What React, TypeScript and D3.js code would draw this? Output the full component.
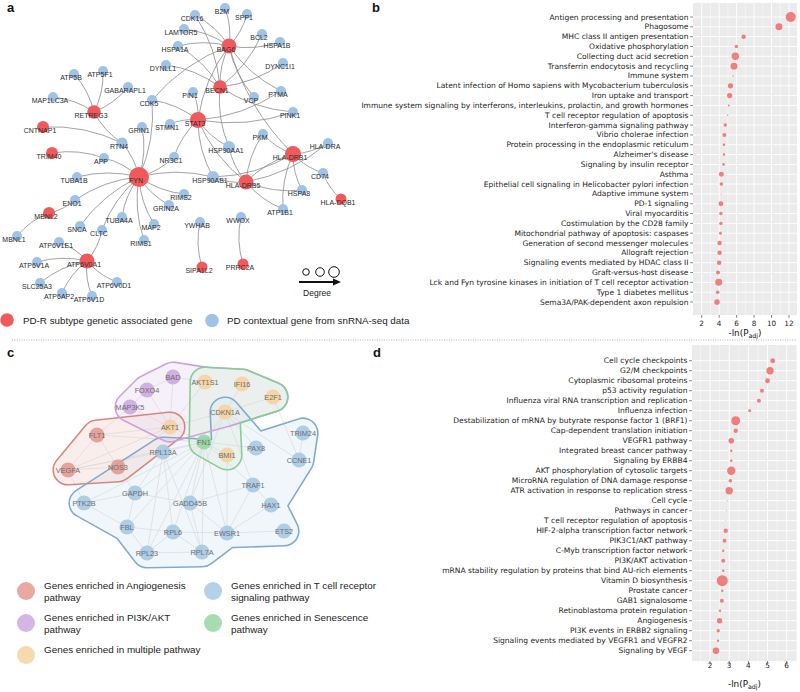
import React from "react";
import * as d3 from "d3";

// ---------------- Panel a : gene network ----------------
const aGenes = ["CDK16","B2M","SPP1","LAMTOR5","BCL2","HSPA1B","BAG6","HSPA1A","DYNLL1","DYNC1I1","ATP5B","ATP5F1","GABARAPL1","BECN1","MAP1LC3A","CDK5","PIN1","VCP","PTMA","RETREG3","PINK1","STAT3","STMN1","CNTNAP1","GRIN1","PKM","RTN4","HLA-DRA","HSP90AA1","HLA-DRB1","TRIM40","APP","NR3C1","CD74","HSP90AB1","FYN","TUBA1B","HLA-DRB5","HSPA8","RIMS2","HLA-DQB1","ENO1","GRIN2A","ATP1B1","MBNL2","TUBA4A","WWOX","YWHAB","MAP2","SNCA","CLTC","MBNL1","RIMS1","ATP6V1E1","ATP6V0A1","ATP6V1A","PRRC2A","SIPA1L2","SLC25A3","ATP6V0D1","ATP6AP2","ATP6V1D"];
const aX = [195,225,247,184,262,280,229,178,166,283,74,103,128,220,53,152,193,254,281,94,293,198,170,43,142,263,122,328,229,293,52,104,174,323,213,139,77,246,302,184,341,75,169,283,49,122,241,200,154,80,102,17,144,59,87,37,243,202,40,117,62,92];
const aY = [15,8,14,29,34,42,46,46,65,63,74,71,87,87,97,100,92,97,91,112,112,120,124,127,127,134,143,143,147,154,153,158,157,173,177,177,177,182,190,194,199,200,205,209,213,217,217,222,224,226,230,236,240,242,261,262,264,267,283,282,293,296];
const aKind = ["C","C","C","C","C","C","R","C","C","C","C","C","C","R","C","C","C","C","C","R","C","R","C","R","C","C","C","C","C","R","R","C","C","C","C","R","C","R","C","C","R","C","C","C","R","C","C","C","C","C","C","C","C","C","R","C","R","R","C","C","C","C"];
const aSize = [5,5,5,5,5,5,7.5,5,5,5,5,5,5,6.8,5,5,5,5,5,6.8,5,8,5,6,5,5,5.5,5,6,8,6,5,5,5,6,10,5,7.5,5,5,5.5,5,5,5,6,5,5,5,5,5,5,5,5,5,7.5,5,5.5,5.5,5,5,5,5];
const aEdges = [
  ["BAG6","CDK16"],["BAG6","B2M"],["BAG6","SPP1"],["BAG6","LAMTOR5"],["BAG6","HSPA1B"],["BAG6","HSPA1A"],["BAG6","BECN1"],["BAG6","VCP"],["BAG6","HLA-DRB1"],["BAG6","CDK5"],["BAG6","PTMA"],["BAG6","STAT3"],
  ["BECN1","BCL2"],["BECN1","DYNC1I1"],["BECN1","DYNLL1"],["BECN1","HSPA1A"],["BECN1","PINK1"],["BECN1","HSP90AA1"],["BECN1","CDK16"],
  ["STAT3","PIN1"],["STAT3","STMN1"],["STAT3","CDK5"],["STAT3","NR3C1"],["STAT3","PTMA"],["STAT3","PINK1"],["STAT3","HSP90AA1"],["STAT3","HSP90AB1"],["STAT3","HLA-DRB5"],
  ["PKM","HLA-DRB1"],["PKM","HLA-DRB5"],["HSP90AA1","HLA-DRB5"],["HSP90AB1","FYN"],["HSP90AB1","HLA-DRB1"],["HSP90AB1","HLA-DRB5"],
  ["HLA-DRB1","HLA-DRA"],["HLA-DRB1","CD74"],["HLA-DRB1","HLA-DRB5"],["HLA-DRB1","HSPA8"],["HLA-DRB1","ATP1B1"],
  ["HLA-DRB5","HSPA8"],["HLA-DRB5","ATP1B1"],["HLA-DRB5","HLA-DRA"],["CD74","HLA-DQB1"],
  ["FYN","RTN4"],["FYN","APP"],["FYN","TUBA1B"],["FYN","ENO1"],["FYN","SNCA"],["FYN","CLTC"],["FYN","TUBA4A"],["FYN","MAP2"],["FYN","RIMS1"],["FYN","GRIN2A"],["FYN","RIMS2"],["FYN","GRIN1"],["FYN","CDK5"],["FYN","NR3C1"],
  ["RETREG3","ATP5B"],["RETREG3","ATP5F1"],["RETREG3","GABARAPL1"],["RETREG3","MAP1LC3A"],["RETREG3","RTN4"],
  ["RTN4","CNTNAP1"],["APP","TRIM40"],["MBNL2","MBNL1"],["MBNL2","ENO1"],
  ["ATP6V0A1","CLTC"],["ATP6V0A1","ATP6V1E1"],["ATP6V0A1","ATP6V1A"],["ATP6V0A1","SLC25A3"],["ATP6V0A1","ATP6AP2"],["ATP6V0A1","ATP6V1D"],["ATP6V0A1","ATP6V0D1"],
  ["YWHAB","SIPA1L2"],["WWOX","PRRC2A"],
];
const aLegendLabels = ["PD-R subtype genetic associated gene","PD contextual gene from snRNA-seq data"];
const degreeLegend = [3.3,4.3,5.3];

// ---------------- Panel b : enrichment ----------------
const bTerms = ["Antigen processing and presentation","Phagosome","MHC class II antigen presentation","Oxidative phosphorylation","Collecting duct acid secretion","Transferrin endocytosis and recycling","Immune system","Latent infection of Homo sapiens with Mycobacterium tuberculosis","Iron uptake and transport","Immune system signaling by interferons, interleukins, prolactin, and growth hormones","T cell receptor regulation of apoptosis","Interferon-gamma signaling pathway","Vibrio cholerae infection","Protein processing in the endoplasmic reticulum","Alzheimer's disease","Signaling by insulin receptor","Asthma","Epithelial cell signaling in Helicobacter pylori infection","Adaptive immune system","PD-1 signaling","Viral myocarditis","Costimulation by the CD28 family","Mitochondrial pathway of apoptosis: caspases","Generation of second messenger molecules","Allograft rejection","Signaling events mediated by HDAC class II","Graft-versus-host disease","Lck and Fyn tyrosine kinases in initiation of T cell receptor activation","Type 1 diabetes mellitus","Sema3A/PAK-dependent axon repulsion"];
const bScore = [12.2,10.85,6.8,5.97,5.85,5.7,5.6,5.3,5.2,5.1,4.98,4.7,4.6,4.55,4.55,4.5,4.25,4.25,4.25,4.2,4.2,4.2,4.15,4.05,4.05,4.0,3.87,3.95,3.83,3.75];
const bCount = [25,12,5,3,13.5,12,0.5,7,7,1,0.5,3,4,1.7,1.5,1.7,6,3,0.25,6,3,3,2.2,5,5,5,4,12,3.2,7.8];
const bTicks = [2,4,6,8,10,12];
const bMinor = [3,5,7,9,11];

// ---------------- Panel c : pathway network ----------------
const cGenes = ["BAD","FOXO4","MAP3K5","AKT1S1","IFI16","E2F1","CDKN1A","AKT1","FLT1","FN1","BMI1","PAX8","TRIM24","CCNE1","RPL13A","VEGFA","NOS3","TRAF1","GAPDH","PTK2B","GADD45B","HAX1","FBL","RPL6","EWSR1","ETS2","RPL23","RPL7A"];
const cX = [173,147,130,205,242,273,225,170,97,204,227,256,303,299,163,68,118,253,135,84,190,271,127,173,227,284,147,202];
const cY = [377,390,407,382,384,397,412,427,435,442,455,448,433,460,452,470,467,485,493,503,503,505,527,532,533,531,553,552];
const cCat = ["P","P","P","M","M","M","M","M","A","S","M","T","T","T","T","A","A","T","T","T","T","T","T","T","T","T","T","T"];
const cEdges = [
  ["FN1","RPL13A"],["FN1","GAPDH"],["FN1","GADD45B"],["FN1","RPL6"],["FN1","EWSR1"],["FN1","RPL7A"],["FN1","RPL23"],["FN1","TRAF1"],["FN1","PAX8"],["FN1","CDKN1A"],["FN1","AKT1"],["FN1","VEGFA"],["FN1","FLT1"],["FN1","BMI1"],["FN1","PTK2B"],["FN1","FBL"],
  ["GAPDH","PTK2B"],["GAPDH","FBL"],["GAPDH","RPL13A"],["GAPDH","GADD45B"],["RPL13A","RPL6"],["RPL13A","RPL23"],["RPL13A","RPL7A"],["RPL6","RPL23"],["RPL6","RPL7A"],["RPL23","RPL7A"],["RPL6","EWSR1"],["FBL","RPL6"],["FBL","RPL23"],["FBL","PTK2B"],
  ["EWSR1","ETS2"],["EWSR1","HAX1"],["TRAF1","HAX1"],["TRAF1","EWSR1"],["TRAF1","GADD45B"],["CCNE1","E2F1"],["CCNE1","TRIM24"],["CDKN1A","CCNE1"],["CDKN1A","E2F1"],["CDKN1A","AKT1"],["CDKN1A","GADD45B"],["CDKN1A","TRAF1"],["CDKN1A","PAX8"],["BMI1","EWSR1"],
  ["AKT1","FOXO4"],["AKT1","BAD"],["AKT1","MAP3K5"],["AKT1","AKT1S1"],["AKT1","NOS3"],["AKT1","FLT1"],["AKT1","VEGFA"],["VEGFA","FLT1"],["VEGFA","NOS3"],["FLT1","NOS3"],["BAD","FOXO4"],["FOXO4","MAP3K5"],["BAD","AKT1S1"],["IFI16","CDKN1A"],["MAP3K5","FLT1"],["GADD45B","RPL7A"],["GADD45B","EWSR1"],["PTK2B","VEGFA"],["NOS3","GAPDH"],["VEGFA","RPL13A"],
];
const cHullA = ["FLT1","AKT1","NOS3","VEGFA"];
const cHullP = ["MAP3K5","FOXO4","BAD","AKT1S1","IFI16","E2F1","CDKN1A","AKT1"];
const cHullS = ["AKT1S1","IFI16","E2F1","CDKN1A","BMI1","FN1"];
const cHullT = ["PTK2B","RPL13A","BMI1","CDKN1A","PAX8","TRIM24","CCNE1","HAX1","ETS2","EWSR1","RPL7A","RPL23","FBL"];
const cLegendLabels = [
  ["Genes enriched in Angiogenesis","pathway"],
  ["Genes enriched in T cell receptor","signaling pathway"],
  ["Genes enriched in PI3K/AKT","pathway"],
  ["Genes enriched in Senescence","pathway"],
  ["Genes enriched in multiple pathway"],
];
const cLegendCats = ["A","T","P","S","M"];

// ---------------- Panel d : enrichment ----------------
const dTerms = ["Cell cycle checkpoints","G2/M checkpoints","Cytoplasmic ribosomal proteins","p53 activity regulation","Influenza viral RNA transcription and replication","Influenza infection","Destabilization of mRNA by butyrate response factor 1 (BRF1)","Cap-dependent translation initiation","VEGFR1 pathway","Integrated breast cancer pathway","Signaling by ERBB4","AKT phosphorylation of cytosolic targets","MicroRNA regulation of DNA damage response","ATR activation in response to replication stress","Cell cycle","Pathways in cancer","T cell receptor regulation of apoptosis","HIF-2-alpha transcription factor network","PIK3C1/AKT pathway","C-Myb transcription factor network","PI3K/AKT activation","mRNA stability regulation by proteins that bind AU-rich elements","Vitamin D biosynthesis","Prostate cancer","GAB1 signalosome","Retinoblastoma protein regulation","Angiogenesis","PI3K events in ERBB2 signaling","Signaling events mediated by VEGFR1 and VEGFR2","Signaling by VEGF"];
const dScore = [5.27,5.13,5.0,4.71,4.55,4.07,3.34,3.34,3.11,3.11,3.11,3.11,3.06,3.0,2.9,2.87,2.82,2.82,2.76,2.69,2.69,2.69,2.64,2.64,2.62,2.52,2.5,2.43,2.42,2.31];
const dCount = [6,13.5,6,4,4,2.2,20,4.8,7.8,1.4,1.7,17.5,3.2,13.5,0.25,0.25,0.15,4.8,4,1.4,4,1.7,30,1.4,4,1.4,7.2,2.9,1.4,10.8];
const dTicks = [2,3,4,5,6];
const dMinor = [1.5,2.5,3.5,4.5,5.5,6.5];

// ---------------- styling ----------------
const RED = "#F05A5C";
const BLUE = "#9EC3E6";
const catFill: Record<string,string> = { A: "#E39A92", P: "#CDA8DF", M: "#F5D39F", S: "#97D6A2", T: "#A6C9E4" };
const hullFill: Record<string,string> = { A: "#F3D5D1", P: "#EBDDF2", S: "#DDF0E1", T: "#DCE9F5" };
const hullLine: Record<string,string> = { A: "#D9857C", P: "#C9A2DB", S: "#86CD96", T: "#7FAAD0" };
const SANS = "'Liberation Sans', Arial, Helvetica, sans-serif";
const DEJA = "'DejaVu Sans', Verdana, sans-serif";

const rCount = d3.scaleSqrt().domain([0, 30]).range([0, 5.5]);

function curvePath(x1: number, y1: number, x2: number, y2: number, k = 0.13) {
  const mx = (x1 + x2) / 2, my = (y1 + y2) / 2;
  const dx = x2 - x1, dy = y2 - y1;
  const p = d3.path();
  p.moveTo(x1, y1);
  p.quadraticCurveTo(mx - dy * k, my + dx * k, x2, y2);
  return p.toString();
}

function PanelA() {
  const sx = d3.scaleLinear().domain([0, 1]).range([0, 1]);
  const sy = d3.scaleLinear().domain([0, 1]).range([0, 1]);
  const idx = new Map(aGenes.map((g, i) => [g, i]));
  const degX = d3.scalePoint<number>().domain([0, 1, 2]).range([306, 334]);
  return (
    <g>
      <g fill="none" stroke="#8C8C8C" strokeWidth={0.8}>
        {aEdges.map(([s, t], i) => {
          const a = idx.get(s)!, b = idx.get(t)!;
          return <path key={i} d={curvePath(sx(aX[a]), sy(aY[a]), sx(aX[b]), sy(aY[b]))} />;
        })}
      </g>
      {aGenes.map((g, i) => (
        <circle key={g} cx={sx(aX[i])} cy={sy(aY[i])} r={aSize[i]} fill={aKind[i] === "R" ? RED : BLUE} />
      ))}
      <g fontFamily={SANS} fontSize={7} fill="#2a2a2a" textAnchor="middle">
        {aGenes.map((g, i) => (
          <text key={g} x={sx(aX[i]) - 3} y={sy(aY[i]) + 3.5} dominantBaseline="central">{g}</text>
        ))}
      </g>
      {/* degree legend */}
      <g>
        {degreeLegend.map((r, i) => (
          <circle key={i} cx={degX(i)!} cy={272} r={r} fill="none" stroke="#111" strokeWidth={1} />
        ))}
        <line x1={299} y1={282} x2={335} y2={282} stroke="#111" strokeWidth={2} />
        <path d="M333,278.5 L341,282 L333,285.5 Z" fill="#111" />
        <text x={317} y={293} fontFamily={SANS} fontSize={8.5} fill="#222" textAnchor="middle" dominantBaseline="central">Degree</text>
      </g>
      {/* legend */}
      <g fontFamily={SANS} fontSize={9.8} fill="#222">
        <circle cx={7} cy={320} r={6.8} fill={RED} />
        <text x={23} y={320.5} dominantBaseline="central">{aLegendLabels[0]}</text>
        <circle cx={212} cy={320.5} r={6.8} fill={BLUE} />
        <text x={227} y={320.5} dominantBaseline="central">{aLegendLabels[1]}</text>
      </g>
    </g>
  );
}

function DotPanel(props: {
  id: string; terms: string[]; scores: number[]; counts: number[];
  domain: [number, number]; range: [number, number];
  px: [number, number]; py: [number, number]; rows: [number, number];
  ticks: number[]; minor: number[]; tickY: number; titleY: number;
}) {
  const { terms, scores, counts, domain, range, px, py, rows, ticks, minor, tickY, titleY } = props;
  const x = d3.scaleLinear().domain(domain).range(range);
  const y = d3.scalePoint<string>().domain(terms).range(rows);
  const cx = (px[0] + px[1]) / 2;
  return (
    <g>
      <rect x={px[0]} y={py[0]} width={px[1] - px[0]} height={py[1] - py[0]} fill="#EBEBEB" />
      <g stroke="#FFFFFF">
        {minor.filter(v => x(v) > px[0] && x(v) < px[1]).map(v => (
          <line key={"m" + v} x1={x(v)} x2={x(v)} y1={py[0]} y2={py[1]} strokeWidth={0.45} />
        ))}
        {ticks.map(v => (
          <line key={"t" + v} x1={x(v)} x2={x(v)} y1={py[0]} y2={py[1]} strokeWidth={0.9} />
        ))}
        {terms.map(t => (
          <line key={"h" + t} x1={px[0]} x2={px[1]} y1={y(t)!} y2={y(t)!} strokeWidth={0.9} />
        ))}
      </g>
      <g fill="#F06A6A" fillOpacity={0.85}>
        {terms.map((t, i) => (
          <circle key={t} cx={x(scores[i])} cy={y(t)!} r={rCount(counts[i])} />
        ))}
      </g>
      <g stroke="#333" strokeWidth={0.6}>
        {terms.map(t => (
          <line key={"k" + t} x1={px[0] - 2.8} x2={px[0]} y1={y(t)!} y2={y(t)!} />
        ))}
        {ticks.map(v => (
          <line key={"xk" + v} x1={x(v)} x2={x(v)} y1={py[1]} y2={py[1] + 2.8} />
        ))}
      </g>
      <g fontFamily={DEJA} fontSize={7.55} fill="#222" textAnchor="end">
        {terms.map(t => (
          <text key={"l" + t} x={px[0] - 4.5} y={y(t)!} dominantBaseline="central">{t}</text>
        ))}
      </g>
      <g fontFamily={DEJA} fontSize={7.3} fill="#222" textAnchor="middle">
        {ticks.map(v => (
          <text key={"xl" + v} x={x(v)} y={tickY}>{v}</text>
        ))}
      </g>
      <text x={cx} y={titleY} fontFamily={DEJA} fontSize={8.8} fill="#111" textAnchor="middle">
        -ln(P<tspan fontSize={6.3} dy={2}>adj</tspan><tspan dy={-2}>)</tspan>
      </text>
    </g>
  );
}

function PanelC() {
  const idx = new Map(cGenes.map((g, i) => [g, i]));
  const sx = d3.scaleLinear().domain([0, 1]).range([0, 1]);
  const sy = d3.scaleLinear().domain([0, 1]).range([0, 1]);
  const R = 14;
  const hulls: [string, string[]][] = [["T", cHullT], ["A", cHullA], ["P", cHullP], ["S", cHullS]];
  const hullD = (members: string[]) => {
    const line = d3.line().curve(d3.curveLinearClosed);
    return line(members.map(m => { const i = idx.get(m)!; return [sx(cX[i]), sy(cY[i])] as [number, number]; }))!;
  };
  return (
    <g>
      <defs>
        {hulls.map(([k, m]) => (
          <mask id={"ring" + k} key={k} maskUnits="userSpaceOnUse" x={0} y={340} width={400} height={260}>
            <rect x={0} y={340} width={400} height={260} fill="black" />
            <path d={hullD(m)} fill="white" stroke="white" strokeWidth={2 * R + 3.2} strokeLinejoin="round" />
            <path d={hullD(m)} fill="black" stroke="black" strokeWidth={2 * R} strokeLinejoin="round" />
          </mask>
        ))}
      </defs>
      {hulls.map(([k, m]) => (
        <g key={"f" + k} opacity={0.4}>
          <path d={hullD(m)} fill={hullFill[k]} stroke={hullFill[k]} strokeWidth={2 * R} strokeLinejoin="round" />
        </g>
      ))}
      <g stroke="#D6D6D6" strokeWidth={0.7} opacity={0.85}>
        {cEdges.map(([s, t], i) => {
          const a = idx.get(s)!, b = idx.get(t)!;
          return <line key={i} x1={sx(cX[a])} y1={sy(cY[a])} x2={sx(cX[b])} y2={sy(cY[b])} />;
        })}
      </g>
      {hulls.map(([k]) => (
        <rect key={"r" + k} x={0} y={340} width={400} height={260} fill={hullLine[k]} mask={`url(#ring${k})`} />
      ))}
      {cGenes.map((g, i) => (
        <circle key={g} cx={sx(cX[i])} cy={sy(cY[i])} r={7.6} fill={catFill[cCat[i]]} fillOpacity={0.9} />
      ))}
      <g fontFamily={SANS} fontSize={7.3} fill="#6E6E6E" textAnchor="middle">
        {cGenes.map((g, i) => (
          <text key={g} x={sx(cX[i])} y={sy(cY[i]) + 0.5} dominantBaseline="central">{g}</text>
        ))}
      </g>
      <g fontFamily={SANS} fontSize={9.9} fill="#222">
        {cLegendLabels.map((lines, i) => {
          const col = i % 2, row = Math.floor(i / 2);
          const cx = col === 0 ? 26 : 213;
          const cy = 591 + row * 32;
          return (
            <g key={i}>
              <circle cx={cx} cy={cy} r={9} fill={catFill[cLegendCats[i]]} fillOpacity={0.85} />
              {lines.map((ln, j) => (
                <text key={j} x={cx + 18} y={cy - 6 + j * 12.5} dominantBaseline="central">{ln}</text>
              ))}
            </g>
          );
        })}
      </g>
    </g>
  );
}

export default function App() {
  return (
    <svg width={800} height={692} viewBox="0 0 800 692"
      style={{ position: "absolute", left: 0, top: 0, display: "block", background: "#fff" }}>
      <rect x={0} y={0} width={800} height={692} fill="#fff" />
      <g fontFamily={SANS} fontWeight="bold" fontSize={13} fill="#111">
        <text x={7} y={12}>a</text>
        <text x={372} y={12}>b</text>
        <text x={7} y={357}>c</text>
        <text x={373} y={357}>d</text>
      </g>
      <line x1={12} x2={797} y1={340} y2={340} stroke="#9A9A9A" strokeWidth={0.8} strokeDasharray="1,1.4" />
      <PanelA />
      <DotPanel id="b" terms={bTerms} scores={bScore} counts={bCount}
        domain={[2, 12]} range={[701.7, 789]} px={[693, 797]} py={[3, 315]} rows={[17, 302]}
        ticks={bTicks} minor={bMinor} tickY={326} titleY={336} />
      <PanelC />
      <DotPanel id="d" terms={dTerms} scores={dScore} counts={dCount}
        domain={[2, 6]} range={[710, 786.7]} px={[692, 797]} py={[345, 661]} rows={[360.7, 650.7]}
        ticks={dTicks} minor={dMinor} tickY={668} titleY={687} />
    </svg>
  );
}
